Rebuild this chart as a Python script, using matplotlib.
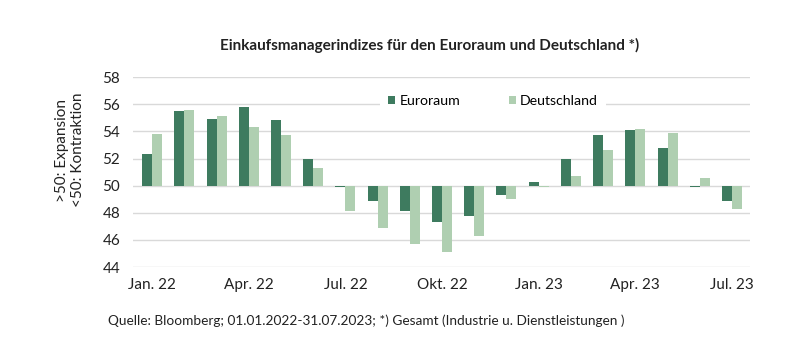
import matplotlib.pyplot as plt
import numpy as np

plt.rcParams['font.family'] = ['Lato', 'DejaVu Sans']

# Composite PMI, Jan 2022 - Jul 2023
months = ['Jan. 22', 'Feb. 22', 'Mär. 22', 'Apr. 22', 'Mai. 22', 'Jun. 22',
          'Jul. 22', 'Aug. 22', 'Sep. 22', 'Okt. 22', 'Nov. 22', 'Dez. 22',
          'Jan. 23', 'Feb. 23', 'Mär. 23', 'Apr. 23', 'Mai. 23', 'Jun. 23',
          'Jul. 23']
euroraum = [52.3, 55.5, 54.9, 55.8, 54.8, 52.0, 49.9, 48.9, 48.1, 47.3,
            47.8, 49.3, 50.3, 52.0, 53.7, 54.1, 52.8, 49.9, 48.9]
deutschland = [53.8, 55.6, 55.1, 54.3, 53.7, 51.3, 48.1, 46.9, 45.7, 45.1,
               46.3, 49.0, 49.9, 50.7, 52.6, 54.2, 53.9, 50.6, 48.3]
yticks = [44, 46, 48, 50, 52, 54, 56, 58]

dark = '#3e7b5f'
light = '#afcfb1'
txt = '#222222'

fig = plt.figure(figsize=(7.95, 3.6), dpi=100)
ax = fig.add_axes([0.167, 0.258, 0.776, 0.528])

x = np.arange(len(months))
w = 0.31
base = 50
ax.bar(x - w / 2, np.array(euroraum) - base, w, bottom=base, color=dark,
       label='Euroraum', zorder=3)
ax.bar(x + w / 2, np.array(deutschland) - base, w, bottom=base, color=light,
       label='Deutschland', zorder=3)

ax.set_ylim(44, 58)
ax.set_yticks(yticks)
ax.set_xlim(-0.6, 18.55)
ax.set_xticks(x[::3])
ax.set_xticklabels(months[::3])
ax.yaxis.grid(True, color='#d9d9d9', linewidth=1, zorder=0)
ax.tick_params(length=0, labelsize=11, colors=txt)
ax.tick_params(axis='y', pad=9)
ax.tick_params(axis='x', pad=8)
for s in ax.spines.values():
    s.set_visible(False)

fig.text(0.088, 0.583, '>50: Expansion\n<50: Kontraktion', rotation=90,
         ha='center', va='center', fontsize=11, color=txt, linespacing=1.1)

leg = ax.legend(loc='center', bbox_to_anchor=(0.584, 0.875), ncol=2,
                frameon=True, fontsize=10.2, handlelength=0.5, handleheight=0.5,
                columnspacing=3.4, borderpad=0.6, handletextpad=0.3)
leg.get_frame().set_facecolor('white')
leg.get_frame().set_edgecolor('none')
leg.get_frame().set_alpha(1)
leg.set_zorder(2)

fig.text(0.54, 0.875, 'Einkaufsmanagerindizes für den Euroraum und Deutschland *)',
         ha='center', va='center', fontsize=11, fontweight='bold', color=txt)
fig.text(0.136, 0.108,
         'Quelle: Bloomberg; 01.01.2022-31.07.2023; *) Gesamt (Industrie u. Dienstleistungen )',
         ha='left', va='center', fontsize=9.8, color=txt)

fig.savefig('out.png', dpi=100)
